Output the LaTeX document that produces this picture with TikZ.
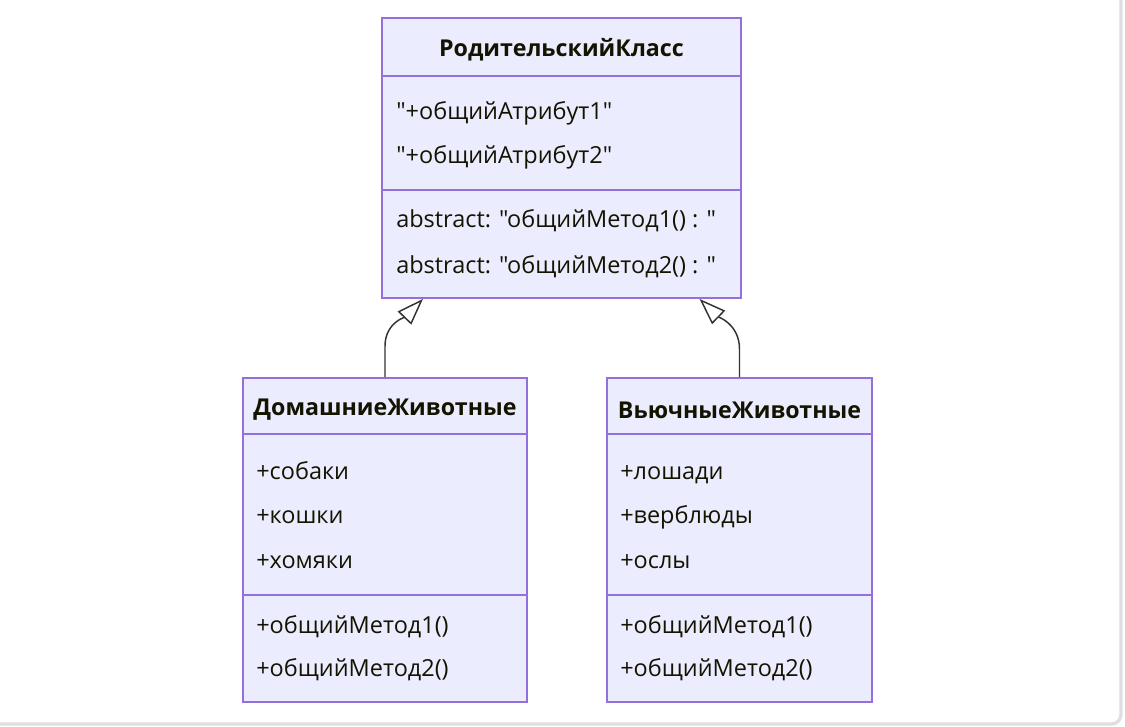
\documentclass[tikz,border=0pt]{standalone}
\usepackage{fontspec}
\setmainfont{Open Sans}
\newfontfamily\klassfont{Open Sans}
\usetikzlibrary{arrows.meta}
\definecolor{klassfill}{HTML}{ECECFF}
\definecolor{klassline}{HTML}{9370DB}
\definecolor{textdark}{HTML}{131300}
\definecolor{kante}{HTML}{333333}

\begin{document}
\begin{tikzpicture}[x=0.75pt, y=-0.75pt,
		klasse/.style={draw=klassline, fill=klassfill, line width=1.4pt, inner sep=0pt},
		trenner/.style={draw=klassline, line width=1.4pt},
		titel/.style={font=\klassfont\fontsize{17.4}{20}\selectfont\bfseries, text=textdark, inner sep=0pt},
		eintrag/.style={font=\klassfont\fontsize{17.6}{20}\selectfont, text=textdark, anchor=west, inner sep=0pt, text height=12.5pt, text depth=3.5pt},
		erbt/.style={draw=kante, line width=1.1pt, -{Triangle[open, length=20pt, width=14pt]}}]
	%Rahmen und Bildbereich
	\useasboundingbox (0,0) rectangle (1125,727);
	\draw[gray!25, line width=2.5pt, rounded corners=7pt] (-30,-30) rectangle (1121,724);
	% Klassen zeichnen
	\node[klasse, minimum width=269.25pt, minimum height=210pt] (eltern) at (561.5,158) {};
	\node[klasse, minimum width=213pt, minimum height=243pt] (haus) at (385,540) {};
	\node[klasse, minimum width=198.75pt, minimum height=243pt] (last) at (739.5,540) {};
	% Trennlinien
	\draw[trenner] (eltern.west |- 0,76) -- (eltern.east |- 0,76);
	\draw[trenner] (eltern.west |- 0,190) -- (eltern.east |- 0,190);
	\draw[trenner] (haus.west |- 0,434) -- (haus.east |- 0,434);
	\draw[trenner] (haus.west |- 0,595) -- (haus.east |- 0,595);
	\draw[trenner] (last.west |- 0,434) -- (last.east |- 0,434);
	\draw[trenner] (last.west |- 0,595) -- (last.east |- 0,595);
	% Titel
	\node[titel] (eltern-t) at (561.5,50) {РодительскийКласс};
	\node[titel] (haus-t) at (385,410) {ДомашниеЖивотные};
	\node[titel] (last-t) at (739.5,410) {ВьючныеЖивотные};
	% Attribute und Methoden
	\node[eintrag] (eltern-a1) at (396,114) {"+общийАтрибут1"};
	\node[eintrag] (eltern-a2) at (396,158) {"+общийАтрибут2"};
	\node[eintrag] (eltern-m1) at (396,222) {abstract: "общийМетод1() : "};
	\node[eintrag] (eltern-m2) at (396,268) {abstract: "общийМетод2() : "};
	\foreach \txt [count=\i] in {+собаки,+кошки,+хомяки}
		\node[eintrag] (haus-a\i) at (256,428.5+44.5*\i) {\txt};
	\foreach \txt [count=\i] in {+лошади,+верблюды,+ослы}
		\node[eintrag] (last-a\i) at (620,428.5+44.5*\i) {\txt};
	\foreach \txt [count=\i] in {+общийМетод1(),+общийМетод2()}
		{\node[eintrag] (haus-m\i) at (256,584+43*\i) {\txt};
		\node[eintrag] (last-m\i) at (620,584+43*\i) {\txt};}
	%Vererbung
	\draw[erbt] (haus.north) -- ++(0,-31) to[out=90, in=226] ([xshift=-103.9pt]eltern.south);
	\draw[erbt] (last.north) -- ++(0,-28) to[out=90, in=316] ([xshift=103.5pt]eltern.south);
\end{tikzpicture}
\end{document}
